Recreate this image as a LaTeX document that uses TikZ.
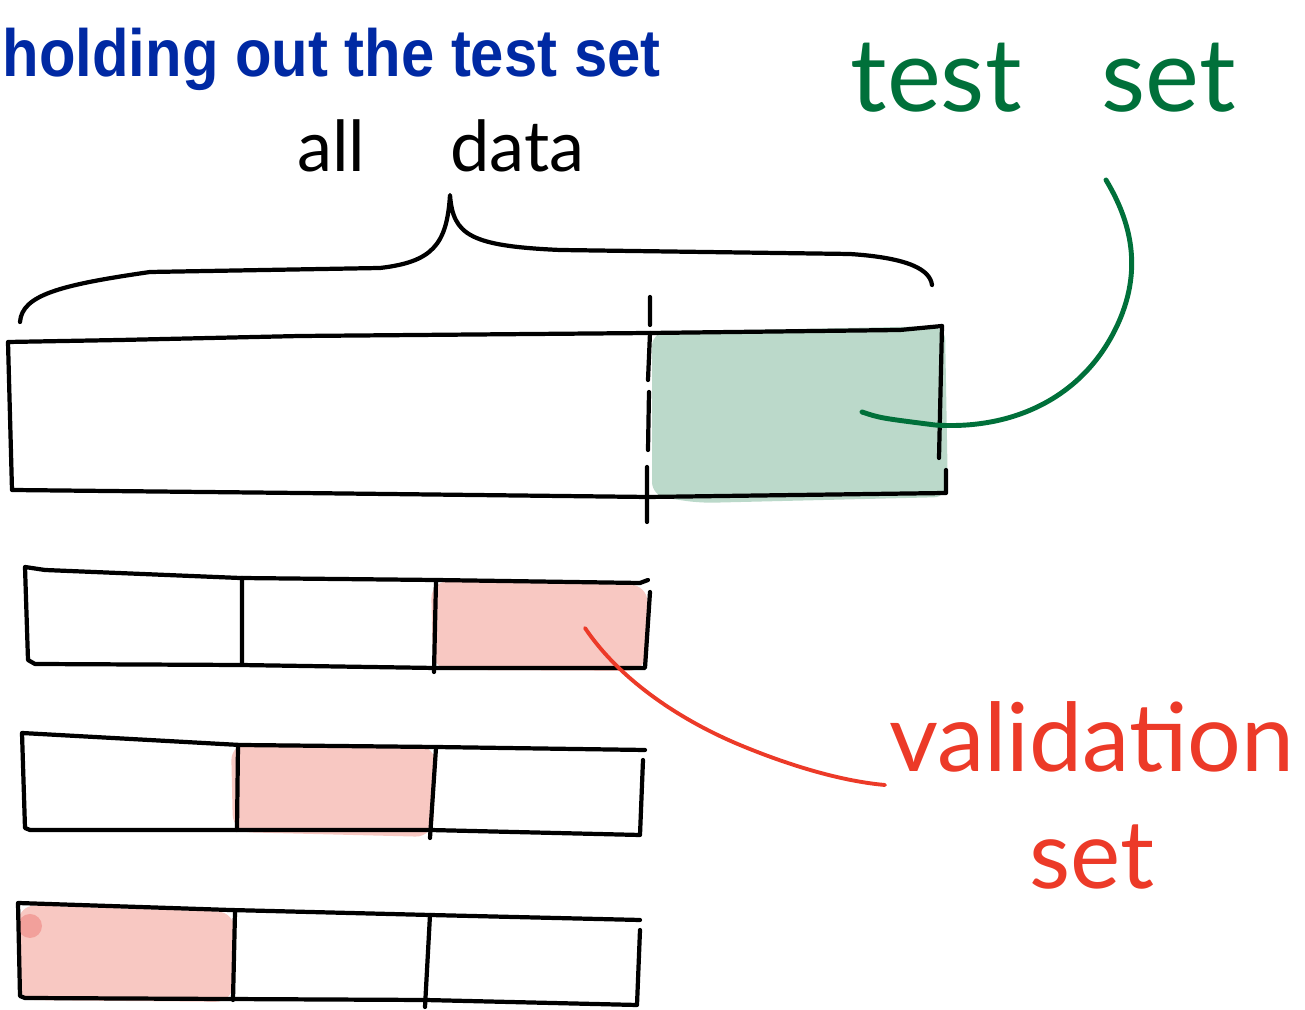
\documentclass[tikz,border=0pt]{standalone}
\usepackage{fontspec}
\newfontfamily\titlefont{Liberation Sans}
\newfontfamily\handfont{Lato}
\definecolor{titleblue}{RGB}{0,41,163}
\definecolor{pengreen}{RGB}{0,112,58}
\definecolor{testfill}{RGB}{187,217,202}
\definecolor{penred}{RGB}{236,58,40}
\definecolor{valfill}{RGB}{248,200,194}
\definecolor{valdot}{RGB}{242,160,155}

\begin{document}
\begin{tikzpicture}[x=0.01cm, y=-0.01cm,
    pen/.style={line width=1.2pt, line cap=round, line join=round},
    hand/.style={inner sep=0, font=\handfont\fontsize{#1}{#1}\selectfont}]
            \useasboundingbox (0,0) rectangle (1305,1010);
            % title and labels
            \node[anchor=base west, inner sep=0, xscale=0.895, text=titleblue, font=\titlefont\bfseries\fontsize{19}{22}\selectfont] (title) at (2,77) {holding out the test set};
            \node[hand=20, anchor=base] (alldata) at (441,172) {all\hspace{0.85cm}data};
            \node[hand=29, anchor=base west, text=pengreen] (testset) at (850,112) {test\hspace{0.8cm}set};
            \node[hand=27, align=center, text=penred] (valset) at (1092,795) {validation\\[0.22cm]set};
            \coordinate (tsin) at (862,412);
            \coordinate (tsout) at (1106,180);
            \coordinate (vsin) at (585,628);
            \coordinate (vsout) at (885,785);
            % brace over all data
            \draw[pen] (20,322) .. controls (22,295) and (60,285) .. (150,272) -- (380,268) .. controls (432,262) and (447,245) .. (450,195) .. controls (453,235) and (470,246) .. (560,250) -- (850,254) .. controls (910,258) and (930,270) .. (932,285);
            % all data with the test set held out
            \fill[testfill, rounded corners=4] (652,332) -- (945,326) -- (948,497) -- (700,503) -- (652,496) -- cycle;
            \draw[pen] (942,326) -- (900,330) -- (650,333) -- (300,336) -- (120,340) -- (8,342) -- (12,490) -- (300,493) -- (648,497) -- (946,493) -- (946,470);
            \draw[pen] (942,326) -- (939,458);
            \draw[pen] (650,297) -- (650,325) (650,333) -- (648,380) (649,392) -- (648,450) (647,467) -- (647,522);
            \draw[pen, pengreen, line width=1.4pt] (tsin) .. controls (880,418) .. (935,425) .. controls (1010,430) and (1080,400) .. (1115,330) .. controls (1145,270) and (1130,220) .. (tsout);
            % first split
            \fill[valfill, rounded corners=5] (431,581) -- (648,585) -- (646,671) -- (433,670) -- cycle;
            \draw[pen] (650,592) -- (645,668) -- (435,668) -- (240,665) -- (35,664) -- (28,660) -- (25,567) -- (45,570) -- (240,578) -- (435,580) -- (640,583) -- (648,580);
            \draw[pen] (242,578) -- (242,664) (436,581) -- (434,672);
            % second split
            \fill[valfill, rounded corners=5] (231,743) -- (436,746) -- (433,837) -- (233,832) -- cycle;
            \draw[pen] (643,760) -- (640,835) -- (430,830) -- (30,830) -- (25,828) -- (22,733) -- (240,745) -- (435,747) -- (645,750);
            \draw[pen] (238,745) -- (237,830) (436,748) -- (430,838);
            % third split
            \fill[valfill, rounded corners=5] (18,905) -- (235,912) -- (233,1002) -- (18,1000) -- cycle;
            \fill[valdot] (30,926) circle (12);
            \draw[pen] (640,930) -- (637,1005) -- (425,1000) -- (25,998) -- (20,996) -- (18,903) -- (230,910) -- (430,915) -- (640,920);
            \draw[pen] (235,912) -- (233,1000) (430,915) -- (425,1007);
            \draw[pen, penred, line width=1.1pt] (vsin) .. controls (620,680) and (680,720) .. (740,745) .. controls (800,770) and (850,782) .. (vsout);
        \end{tikzpicture}
\end{document}
